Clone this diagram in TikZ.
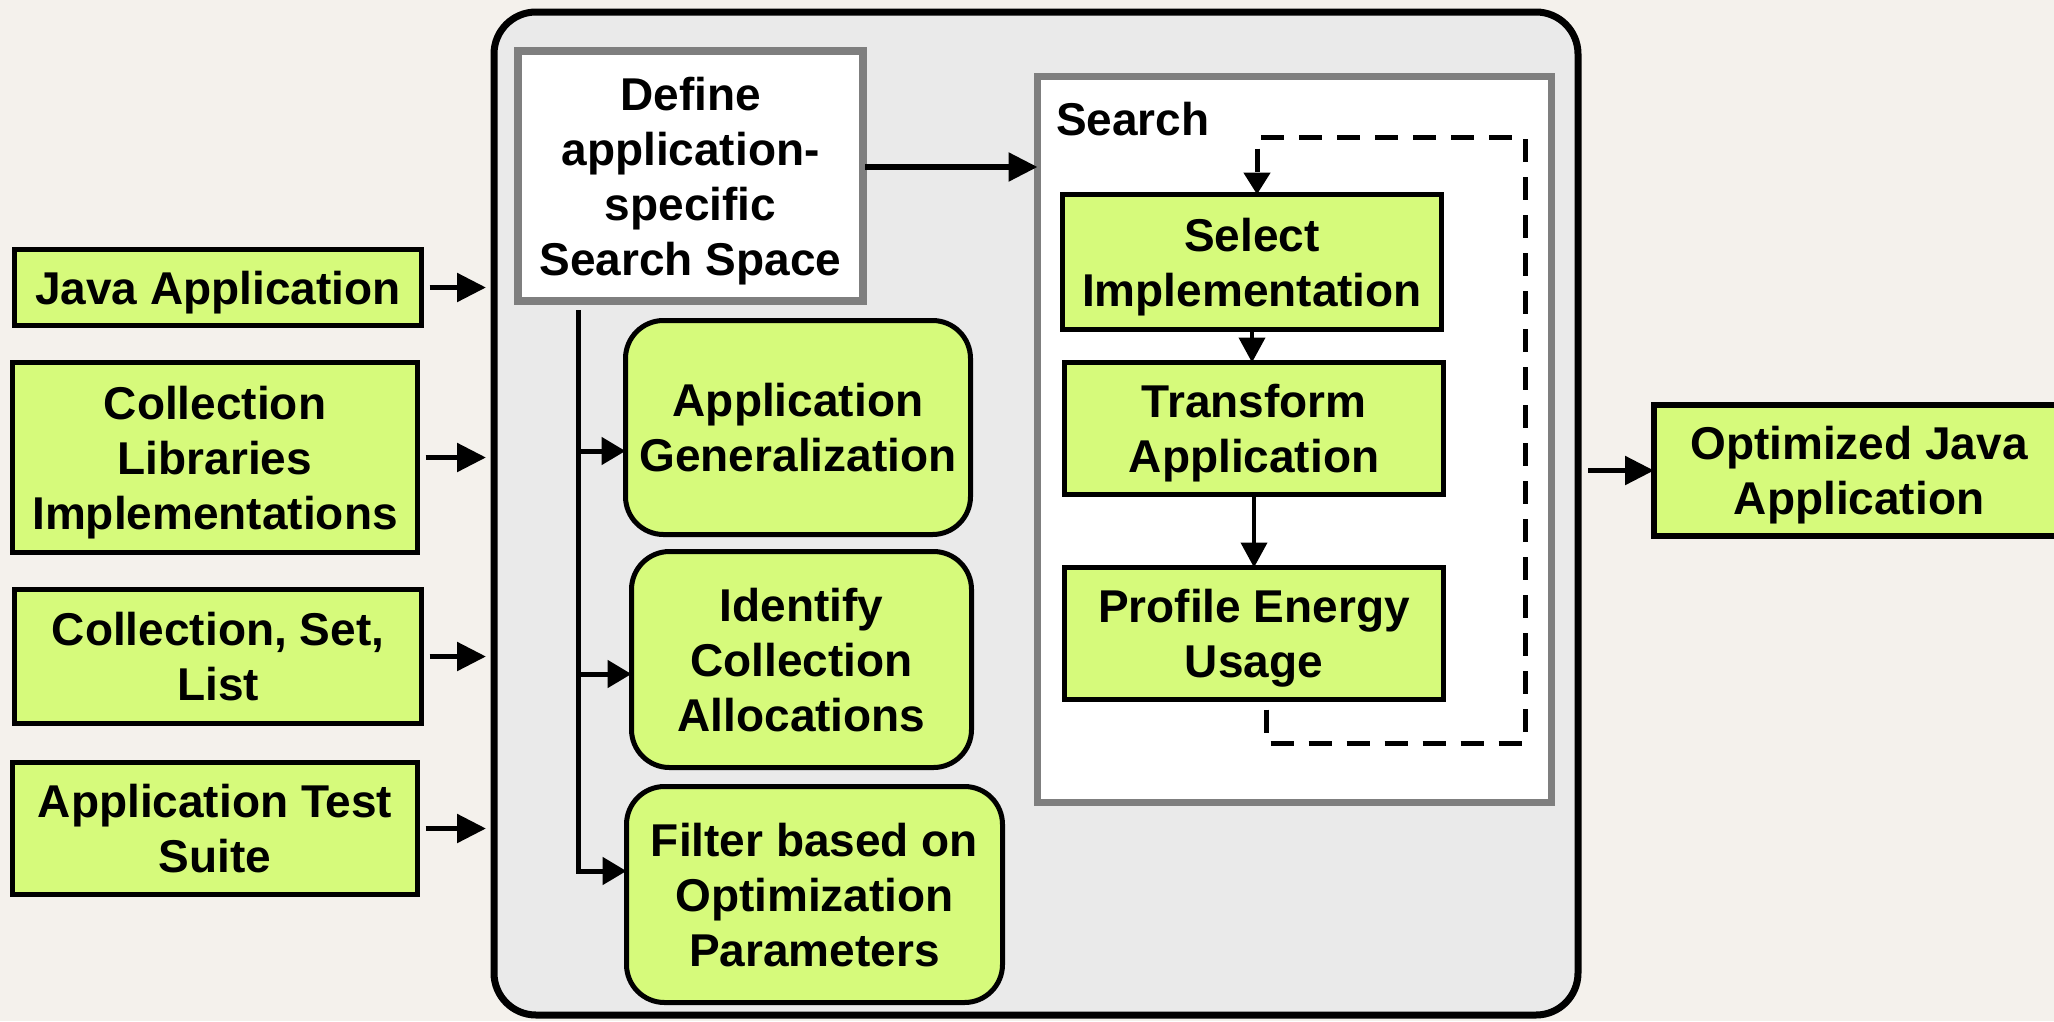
\documentclass[tikz,border=0pt]{standalone}
\usepackage{fontspec}
\setmainfont{Liberation Sans}
\usetikzlibrary{arrows.meta,calc}
\definecolor{bg}{HTML}{F4F1EC}
\definecolor{panel}{HTML}{EAEAEA}
\definecolor{lime}{HTML}{D6FA7B}
\definecolor{frame}{HTML}{7F7F7F}
\begin{document}
\begin{tikzpicture}[x=1pt,y=-1pt,
  every node/.style={font=\fontsize{46}{55}\selectfont\bfseries, align=center, inner sep=0pt, outer sep=0pt, text depth=0pt},
  gbox/.style={draw=black, line width=5pt, fill=lime},
  rbox/.style={gbox, rounded corners=38pt},
  arr/.style={line width=5.5pt, -{Triangle[length=29pt,width=28pt]}},
  thinarr/.style={line width=4pt, -{Triangle[length=25pt,width=26pt]}},
  brarr/.style={line width=5pt, -{Triangle[length=24pt,width=27pt]}},
  loopline/.style={line width=5pt, dash pattern=on 23pt off 15pt, -{Triangle[length=22pt,width=26pt]}}]
\clip (0,0) rectangle (2054,1021);
\useasboundingbox (0,0) rectangle (2054,1021);
\fill[bg] (0,0) rectangle (2054,1021);

% main container
\node[draw=black, line width=7pt, fill=panel, rounded corners=42pt, minimum width=1084pt, minimum height=1003pt] (main) at (1036,513.5) {};

% inputs
\node[gbox, minimum width=407pt, minimum height=76pt] (java) at (218,287.5) {Java Application};
\node[gbox, minimum width=405pt, minimum height=190pt] (colllib) at (215,457.5) {Collection\\Libraries\\Implementations};
\node[gbox, minimum width=407pt, minimum height=134pt] (collset) at (218,656.5) {Collection, Set,\\List};
\node[gbox, minimum width=405pt, minimum height=132pt] (tests) at (215,828.5) {Application Test\\Suite};

\foreach \n in {java,colllib,collset,tests}
  \draw[arr, shorten <=8pt, shorten >=8pt] (\n.east) -- (\n.east -| main.west);

% define box
\node[draw=frame, line width=8pt, fill=white, minimum width=345pt, minimum height=250pt] (define) at (690.5,176) {Define\\application-\\specific\\Search Space};

% search box
\node[draw=frame, line width=7pt, fill=white, minimum width=514pt, minimum height=726pt] (search) at (1294.5,439.5) {};
\node[anchor=base west] (searchlbl) at (1056,135) {Search};

\node[gbox, minimum width=379pt, minimum height=135pt] (select) at (1252,262) {Select\\Implementation};
\node[gbox, minimum width=379pt, minimum height=132pt] (transform) at (1254,428.5) {Transform\\Application};
\node[gbox, minimum width=379pt, minimum height=132pt] (profile) at (1254,633.5) {Profile Energy\\Usage};

\draw[arr, shorten <=2pt] ([yshift=9pt]define.east) -- ([yshift=9pt]define.east -| search.west);

\draw[thinarr] (select.south) -- (select.south |- transform.north);
\draw[thinarr] (transform.south) -- (transform.south |- profile.north);

\coordinate (loopBR) at (1525,743);
\coordinate (loopTR) at (1525,137);
\draw[loopline] ([xshift=12pt,yshift=-10pt]profile.south) |- (loopBR) -- (loopTR) -| ([xshift=5pt]select.north);

% left column
\node[rbox, minimum width=345pt, minimum height=214pt] (appgen) at (798,427.5) {Application\\Generalization};
\node[rbox, minimum width=340pt, minimum height=216pt] (ident) at (801.5,659.5) {Identify\\Collection\\Allocations};
\node[rbox, minimum width=376pt, minimum height=216pt] (filter) at (814.5,894.5) {Filter based on\\Optimization\\Parameters};

\coordinate (trunk) at (578,310);
\coordinate (appbr) at ([yshift=-23.5pt]appgen.west);
\coordinate (idbr) at ([yshift=-14.5pt]ident.west);
\coordinate (fibr) at ([yshift=23.5pt]filter.west);
\draw[brarr] (trunk) |- (fibr);
\draw[brarr] (trunk |- appbr) -- (appbr);
\draw[brarr] (trunk |- idbr) -- (idbr);

% output
\node[gbox, line width=6pt, minimum width=410pt, minimum height=131pt] (opt) at (1859,470.5) {Optimized Java\\Application};
\draw[arr, shorten <=10pt] (main.east |- opt.west) -- (opt.west);
\end{tikzpicture}
\end{document}
